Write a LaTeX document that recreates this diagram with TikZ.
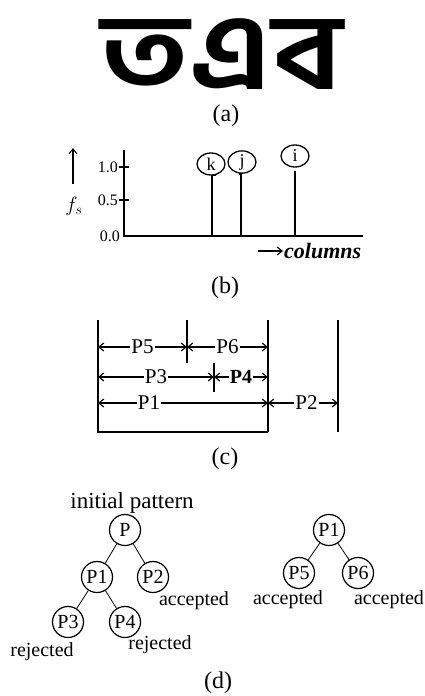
\documentclass[tikz,border=0pt]{standalone}
\usepackage{fontspec}
\usepackage{graphicx}
\setmainfont{Liberation Serif}
\newfontfamily\bn[Script=Bengali]{Hind Siliguri}
\usetikzlibrary{arrows.meta,shapes.geometric}
\begin{document}
\begin{tikzpicture}[x=1pt,y=-1pt,
  captext/.style={font=\fontsize{24}{24}\selectfont},
  ticklab/.style={font=\fontsize{16}{16}\selectfont, anchor=east, inner sep=1pt},
  plab/.style={font=\fontsize{21}{21}\selectfont, fill=white, inner sep=1pt},
  smalltext/.style={font=\fontsize{20}{20}\selectfont},
  dimarrow/.style={{Straight Barb[length=5pt,width=8pt]}-{Straight Barb[length=5pt,width=8pt]}, line width=1.1pt},
  frameline/.style={line width=1.3pt},
  peak/.style={draw, ellipse, line width=1.3pt, minimum width=28pt, minimum height=22pt, inner sep=0pt, font=\fontsize{18}{18}\selectfont},
  tnode/.style={draw, circle, line width=1.2pt, minimum size=31pt, inner sep=0pt, font=\fontsize{20}{20}\selectfont},
  treeedge/.style={line width=0.8pt}
]
\useasboundingbox (0,0) rectangle (424,696);
\fill[white] (0,0) rectangle (424,696);

% (a)
\node[inner sep=0pt, anchor=base, text depth=0pt] (word) at (222,89) {\scalebox{1.24}[1]{\bn\bfseries\fontsize{106}{106}\selectfont তএব}};
\node[captext] (capa) at (226,116) {(a)};

% (b)
\coordinate (ytop) at (124,150);
\coordinate (orig) at (124,236);
\coordinate (xend) at (363,236);
\draw[frameline] (ytop) -- (orig) -- (xend);
\draw[line width=1.1pt] (119,167) -- (129,167);
\draw[line width=1.1pt] (119,200) -- (129,200);
\node[ticklab] (t10) at (119,167) {1.0};
\node[ticklab] (t05) at (119,200) {0.5};
\node[ticklab] (t00) at (121,236) {0.0};
\coordinate (upb) at (73,184);
\coordinate (upt) at (73,148);
\draw[line width=1.1pt, -{Straight Barb[length=5pt,width=8pt]}] (upb) -- (upt);
\node[font=\fontsize{20}{20}\selectfont] (fs) at (74,206) {$f_s$};
\node[peak] (k) at (211,164) {k};
\node[peak] (j) at (242,162) {j};
\node[peak] (i) at (295,156) {i};
\coordinate (kb) at (212,236);
\coordinate (jb) at (241,236);
\coordinate (ib) at (295,236);
\draw[line width=1.1pt, shorten <=5pt] (k.south) -| (kb);
\draw[line width=1.6pt, shorten <=3pt] (j.south) -| (jb);
\draw[line width=1.1pt, shorten <=3pt] (i.south) -- (ib);
\coordinate (ca) at (258,251);
\coordinate (cb) at (283,251);
\draw[line width=1.1pt, -{Straight Barb[length=5pt,width=8pt]}] (ca) -- (cb);
\node[font=\fontsize{22}{22}\selectfont\bfseries\itshape, anchor=west, inner sep=1pt] (col) at (cb) {columns};
\node[captext] (capb) at (225,288) {(b)};

% (c)
\coordinate (L0) at (98,320);
\coordinate (L1) at (98,432);
\coordinate (M0) at (268,320);
\coordinate (M1) at (268,432);
\coordinate (R0) at (338,320);
\coordinate (R1) at (338,432);
\coordinate (D0) at (187,320);
\coordinate (D1) at (187,363);
\coordinate (E0) at (214,363);
\coordinate (E1) at (214,392);
\draw[frameline] (L0) -- (L1) -- (M1);
\draw[frameline] (M0) -- (M1);
\draw[frameline] (R0) -- (R1);
\draw[line width=1.6pt] (D0) -- (D1);
\draw[line width=1.6pt] (E0) -- (E1);
\draw[dimarrow] (98,347) -- node[plab] {P5} (187,347);
\draw[dimarrow] (187,347) -- node[plab] {P6} (268,347);
\draw[dimarrow] (98,377) -- node[plab] {P3} (214,377);
\draw[dimarrow] (214,377) -- node[plab,font=\fontsize{20}{20}\selectfont\bfseries] {P4} (268,377);
\draw[dimarrow] (98,403) -- node[plab,pos=0.3] {P1} (268,403);
\draw[dimarrow] (268,403) -- node[plab,pos=0.55] {P2} (338,403);
\node[captext] (capc) at (225,459) {(c)};

% (d)
\node[font=\fontsize{23}{23}\selectfont] (init) at (132,503) {initial pattern};
\node[tnode] (P) at (125,530) {P};
\node[tnode] (Pa) at (97,577) {P1};
\node[tnode] (Pb) at (153,577) {P2};
\node[tnode] (Pc) at (68,622) {P3};
\node[tnode] (Pd) at (125,622) {P4};
\draw[treeedge] (P) -- (Pa);
\draw[treeedge] (P) -- (Pb);
\draw[treeedge] (Pa) -- (Pc);
\draw[treeedge] (Pa) -- (Pd);
\node[smalltext] (acc1) at (194,601) {accepted};
\node[smalltext] (rej1) at (42,652) {rejected};
\node[smalltext] (rej2) at (160,645) {rejected};
\node[tnode] (Q) at (329,530) {P1};
\node[tnode] (Qa) at (299,573) {P5};
\node[tnode] (Qb) at (358,573) {P6};
\draw[treeedge] (Q) -- (Qa);
\draw[treeedge] (Q) -- (Qb);
\node[smalltext] (acc2) at (288,600) {accepted};
\node[smalltext] (acc3) at (389,600) {accepted};
\node[captext] (capd) at (218,683) {(d)};
\end{tikzpicture}
\end{document}
